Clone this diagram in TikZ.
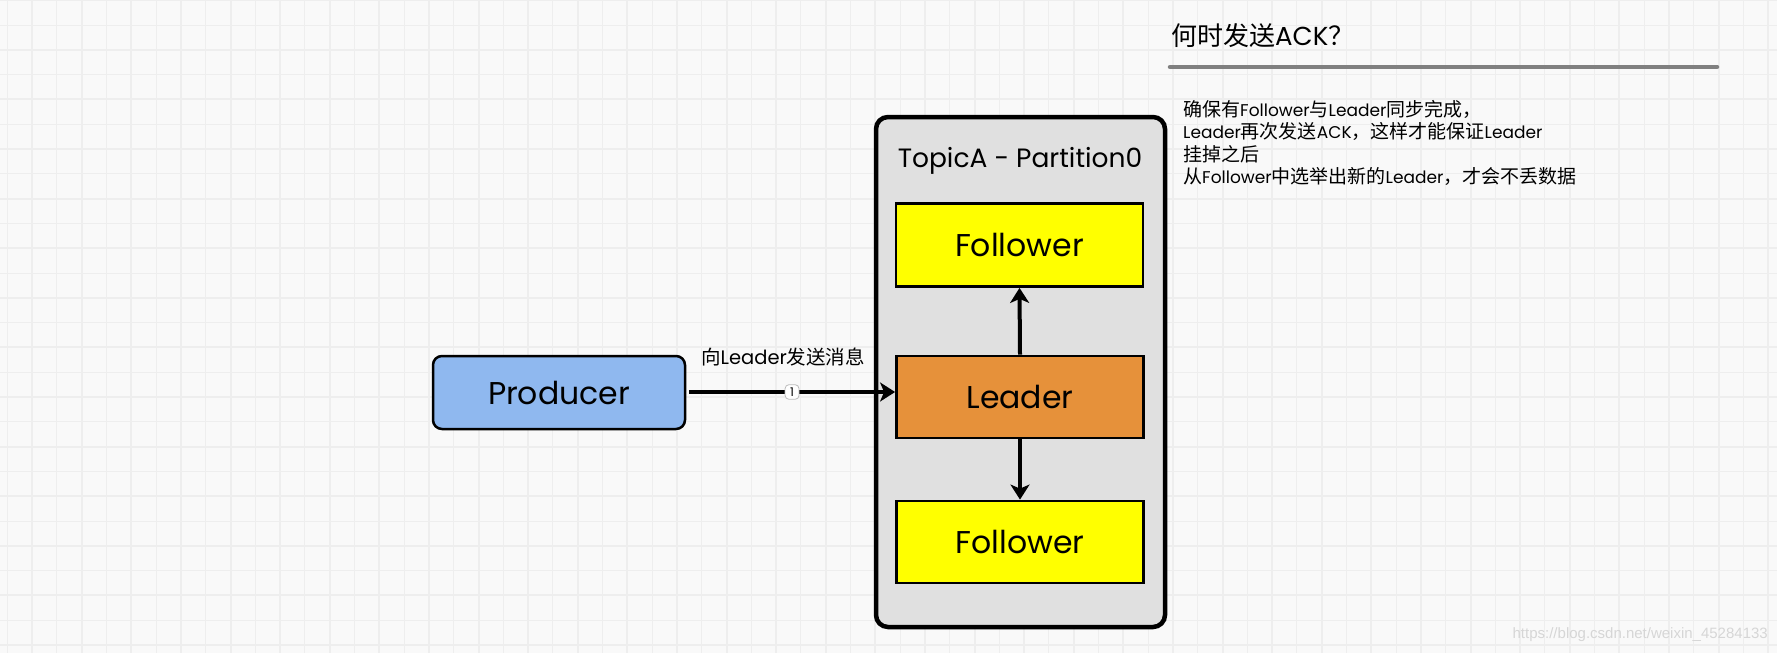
\documentclass[tikz,border=0pt]{standalone}
\usepackage{fontspec}
\setmainfont{Poppins}
\newfontfamily\cjk{Noto Sans CJK SC}
\newfontfamily\wm{Liberation Sans}
\usetikzlibrary{arrows.meta}
\definecolor{bgc}{HTML}{F9F9F9}
\definecolor{gridc}{HTML}{EEEEEE}
\definecolor{partfill}{HTML}{E0E0E0}
\definecolor{yel}{HTML}{FFFF00}
\definecolor{orng}{HTML}{E6913A}
\definecolor{prodblue}{HTML}{8FB8EF}
\definecolor{rulegray}{HTML}{808080}
\definecolor{wmgray}{HTML}{D6D6D6}
\definecolor{tagborder}{HTML}{BBBBBB}
\newcommand\zhb[1]{{\cjk\fontsize{19}{22.5}\selectfont #1}}
\tikzset{
  gridminor/.style={gridc, line width=1pt},
  gridmajor/.style={gridc, line width=2pt},
  outerbox/.style={draw=black, line width=4.5pt, fill=partfill, rounded corners=12pt},
  member/.style={draw=black, line width=2.8pt, minimum width=247pt, minimum height=83pt, font=\fontsize{31.5}{34}\selectfont},
  prodbox/.style={draw=black, line width=2.5pt, fill=prodblue, rounded corners=9pt, minimum width=252pt, minimum height=73pt, font=\fontsize{31.5}{34}\selectfont},
  conn/.style={line width=4pt, -{Stealth[length=15pt,width=19pt,inset=4pt]}},
  numtag/.style={draw=tagborder, line width=0.8pt, fill=white, rounded corners=4pt, inner xsep=2.5pt, inner ysep=3pt, minimum width=14pt, font=\fontsize{12}{13}\selectfont},
  plain/.style={inner sep=0pt, anchor=west}
}
\begin{document}
\begin{tikzpicture}[x=1pt,y=-1pt]
\fill[bgc] (0,0) rectangle (1777,653);
\useasboundingbox (0,0) rectangle (1777,653);
\foreach \i in {0,...,72} {
  \pgfmathtruncatemacro{\odd}{mod(\i,2)}
  \ifnum\odd=1
    \draw[gridmajor] ({7.3+24.8*\i},0) -- ({7.3+24.8*\i},653);
  \else
    \draw[gridminor] ({7.3+24.8*\i},0) -- ({7.3+24.8*\i},653);
  \fi
}
\foreach \j in {0,...,27} {
  \pgfmathtruncatemacro{\odd}{mod(\j,2)}
  \ifnum\odd=0
    \draw[gridmajor] (0,{0.2+24.8*\j}) -- (1777,{0.2+24.8*\j});
  \else
    \draw[gridminor] (0,{0.2+24.8*\j}) -- (1777,{0.2+24.8*\j});
  \fi
}

% partition container
\node[outerbox, minimum width=289pt, minimum height=510pt] (part) at (1020.5,372) {};
\node[font=\fontsize{26.5}{30}\selectfont] (ptitle) at (1020,161) {TopicA - Partition0};

\node[member, fill=yel] (f1) at (1019.5,245) {Follower};
\node[member, fill=orng, minimum height=82pt] (lead) at (1020,397) {Leader};
\node[member, fill=yel, minimum height=82pt] (f2) at (1020,542) {Follower};

\draw[conn] (lead.north) -- (f1.south);
\draw[conn] (lead.south) -- (f2.north);

% producer
\node[prodbox] (prod) at (559,392.5) {Producer};
\coordinate (ps) at (689,392);
\draw[conn] (ps) -- (lead.west |- ps)
  node[numtag, pos=0.5] (one) {1};
\node[font=\fontsize{19.5}{22}\selectfont] (msg) at (783,357) {{\cjk 向}Leader{\cjk 发送消息}};

% right side text
\node[plain, font=\fontsize{26}{28}\selectfont] (ttl) at (1171,36) {{\cjk 何时发送}ACK{\cjk ？}};
\coordinate (rl) at (1170,67);
\coordinate (rr) at (1717,67);
\draw[rulegray, line width=4.5pt, line cap=round] (rl) -- (rr);

\node[plain, font=\fontsize{17}{22.5}\selectfont, align=left, anchor=north west] (body) at (1183,100) {%
\zhb{确保有}Follower\zhb{与}Leader\zhb{同步完成，}\\
Leader\zhb{再次发送}ACK\zhb{，这样才能保证}Leader\\
\zhb{挂掉之后}\\
\zhb{从}Follower\zhb{中选举出新的}Leader\zhb{，才会不丢数据}};

\node[plain, anchor=east, font=\wm\fontsize{15}{18}\selectfont, text=wmgray] (wmark) at (1768,635) {https://blog.csdn.net/weixin\_45284133};
\end{tikzpicture}
\end{document}
